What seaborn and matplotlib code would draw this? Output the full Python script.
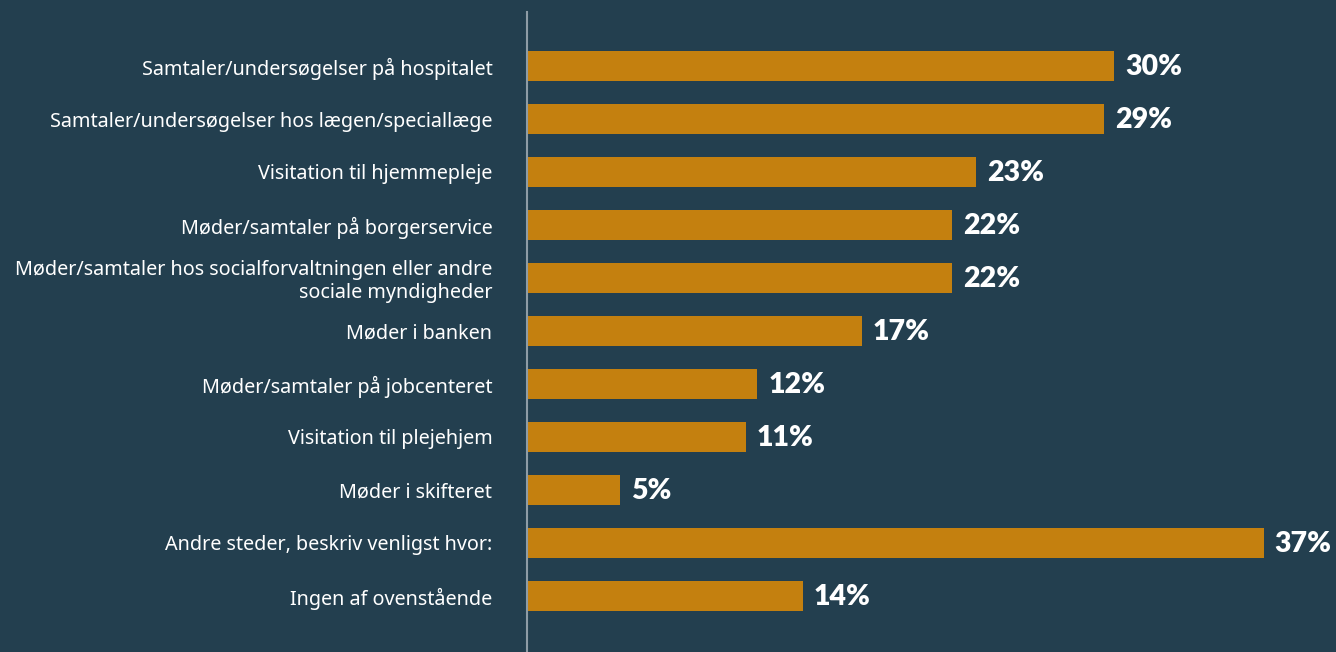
"""
Horizontal bar chart - where respondents have had meetings/conversations.
"""

import matplotlib
matplotlib.use("Agg")
import matplotlib.pyplot as plt
import pandas as pd
import seaborn as sns

# ── Data ──────────────────────────────────────────────────────────────────────
CATEGORIES = [
    "Samtaler/undersøgelser på hospitalet",
    "Samtaler/undersøgelser hos lægen/speciallæge",
    "Visitation til hjemmepleje",
    "Møder/samtaler på borgerservice",
    "Møder/samtaler hos socialforvaltningen eller andre\nsociale myndigheder",
    "Møder i banken",
    "Møder/samtaler på jobcenteret",
    "Visitation til plejehjem",
    "Møder i skifteret",
    "Andre steder, beskriv venligst hvor:",
    "Ingen af ovenstående",
]
SHARES = [29.8, 29.3, 22.8, 21.6, 21.6, 17.0, 11.7, 11.1, 4.7, 37.4, 14.0]

# ── Style ─────────────────────────────────────────────────────────────────────
BG      = "#233f4f"
BAR     = "#c4800f"
AXLINE  = "#8e9ca6"

sns.set_theme(style="white")
plt.rcParams.update({
    "figure.facecolor": BG,
    "axes.facecolor":   BG,
    "savefig.facecolor": BG,
})
plt.rcParams["font.family"] = ["Noto Sans", "DejaVu Sans"]

df = pd.DataFrame({"category": CATEGORIES, "share": SHARES})

fig = plt.figure(figsize=(13.36, 6.52), dpi=100)
ax = fig.add_axes([527 / 1336, 0, 1 - 527 / 1336, 640 / 652])

sns.barplot(data=df, x="share", y="category", color=BAR, saturation=1,
            width=0.58, linewidth=0, edgecolor=BAR, ax=ax)

# bold value label just past the end of each bar
for bar, v in zip(ax.patches, df["share"]):
    ax.annotate(f"{v:.0f}%", (bar.get_width(), bar.get_y() + bar.get_height() / 2),
                xytext=(8, -1), textcoords="offset points", va="center", ha="left",
                color="white", fontsize=20.5, fontweight="heavy",
                family=["Lato", "DejaVu Sans"])

ax.set_xlim(0, 41.07)
ax.set_ylim(11.057, -1.019)
ax.set_xlabel("")
ax.set_ylabel("")
ax.set_xticks([])
ax.tick_params(axis="y", length=0, pad=25, labelsize=14.25, labelcolor="white")

for side in ["top", "right", "bottom"]:
    ax.spines[side].set_visible(False)
ax.spines["left"].set_color(AXLINE)
ax.spines["left"].set_linewidth(1.5)

fig.savefig("out.png", dpi=100)
